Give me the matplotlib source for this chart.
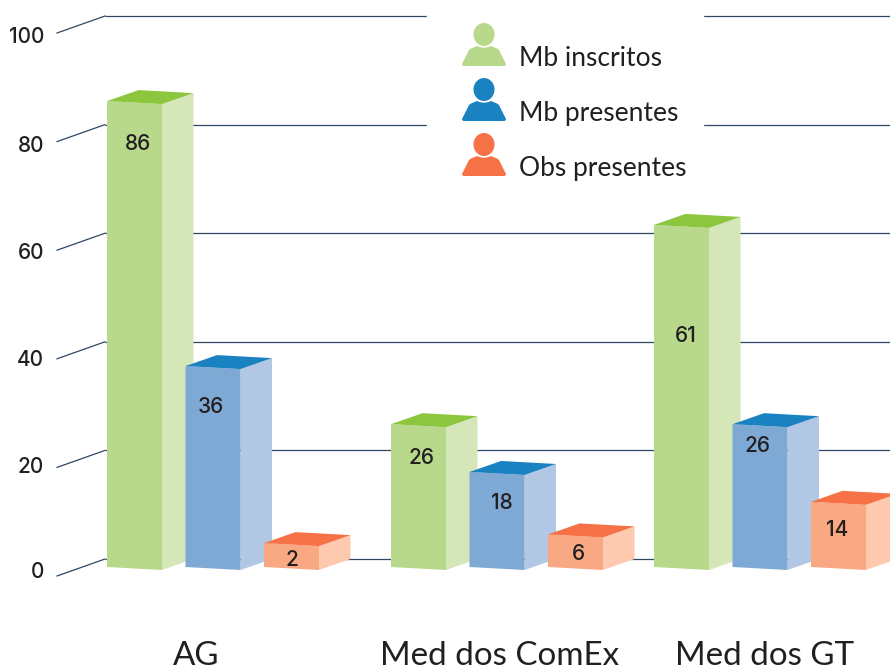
import matplotlib
matplotlib.use('Agg')
import matplotlib.pyplot as plt
from matplotlib.patches import Polygon, Ellipse, PathPatch, Rectangle
from matplotlib.path import Path

# Datos
categorias = ['AG', 'Med dos ComEx', 'Med dos GT']
series = ['Mb inscritos', 'Mb presentes', 'Obs presentes']
etiquetas = [[86, 36, 2], [26, 18, 6], [61, 26, 14]]
# altura dibujada de cada barra, leida contra la escala (no coincide con la etiqueta)
alturas = [[85.8, 37, 4.4], [26.3, 17.5, 6], [63, 26.3, 12]]
ticks = [0, 20, 40, 60, 80, 100]

# Estilo
color_frente = ['#B8D88B', '#7FA9D5', '#F8A883']
color_lado = ['#D5E7B8', '#B1C7E4', '#FDC9AF']
color_tapa = ['#8CC63F', '#1B82C2', '#F67146']
color_linea = '#2F4763'
color_texto = '#231F20'

# Layout en pixeles
PX_UNIDAD = 5.43      # pixeles por unidad de la escala
Y_CERO = 559          # pixel del 0 en el plano de fondo
grupo_x = [107, 391, 654]
paso_x = 78.5
ANCHO = 55
FONDO_X = 31.5
FONDO_Y = 11
CAIDA = 3
BASE_PX = 567
etiqueta_x = [[137.5, 211, 292], [421, 501.5, 578], [686, 758, 837.5]]
etiqueta_y = [[144, 407, 560], [458, 503, 554], [336, 446, 530]]
tick_y = [572, 467, 360, 253, 146, 37]
categoria_x = [196, 499.5, 765]
leyenda_y = [66, 121, 176]


def val(px):
    "Convierte una posicion en pixeles a unidades de la escala"
    return (Y_CERO - px) / PX_UNIDAD


plt.rcParams['font.family'] = ['Lato', 'DejaVu Sans']
fig = plt.figure(figsize=(8.9, 6.66), dpi=100)
ax = fig.add_axes([0, 0, 1, 1])
ax.set_xlim(0, 890)
ax.set_ylim(val(666), val(0))
ax.axis('off')

# Rejilla y marcas del eje
for t, ty in zip(ticks, tick_y):
    ax.plot([105, 890], [t, t], color=color_linea, lw=0.9, zorder=1, solid_capstyle='butt')
    y_frente = t - 17 / PX_UNIDAD
    ax.plot([57, 105], [y_frente, t], color=color_linea, lw=0.9, zorder=1)
    ax.text(44, val(ty), str(t), ha='right', va='center', family='Inter',
            fontsize=15, fontweight='medium', color=color_texto)

# Hueco blanco de la leyenda
ax.add_patch(Rectangle((427, val(135)), 276, val(0) - val(135), color='white', zorder=2))

# Barras
base = val(BASE_PX)
caida = CAIDA / PX_UNIDAD
fy = FONDO_Y / PX_UNIDAD
z = 3
for g, x0 in enumerate(grupo_x):
    for s in range(len(series)):
        x = x0 + s * paso_x
        h = alturas[g][s]
        top = base + h
        frente = [(x, base), (x + ANCHO, base - caida), (x + ANCHO, top - caida), (x, top)]
        lado = [(x + ANCHO, base - caida), (x + ANCHO + FONDO_X, base - caida + fy),
                (x + ANCHO + FONDO_X, top - caida + fy), (x + ANCHO, top - caida)]
        tapa = [(x, top), (x + ANCHO, top - caida),
                (x + ANCHO + FONDO_X, top - caida + fy), (x + FONDO_X, top + fy)]
        ax.add_patch(Polygon(lado, closed=True, fc=color_lado[s], ec='none', zorder=z))
        ax.add_patch(Polygon(frente, closed=True, fc=color_frente[s], ec='none', zorder=z))
        ax.add_patch(Polygon(tapa, closed=True, fc=color_tapa[s], ec='none', zorder=z))
        ax.text(etiqueta_x[g][s], val(etiqueta_y[g][s]), str(etiquetas[g][s]),
                ha='center', va='center', family='Inter', fontsize=15, fontweight='medium',
                color=color_texto, zorder=z + 1)
        z += 2

# Categorias
for nombre, cx in zip(categorias, categoria_x):
    ax.text(cx, val(665), nombre, ha='center', va='baseline', fontsize=23.9,
            color=color_texto, zorder=60)


def persona(cx, yb, color):
    "Dibuja el icono de persona: cx centro, yb pixel de la base"
    ax.add_patch(Ellipse((cx, val(yb - 31.5)), 21, 23 / PX_UNIDAD, fc=color, ec='none', zorder=61))
    verts = [(cx - 22, yb - 2), (cx - 15, yb - 16), (cx - 13, yb - 17.5),
             (cx - 7, yb - 20), (cx, yb - 16.5), (cx + 7, yb - 20),
             (cx + 13, yb - 17.5), (cx + 15, yb - 16), (cx + 22, yb - 2),
             (cx + 22, yb), (cx + 20, yb), (cx - 20, yb), (cx - 22, yb),
             (cx - 22, yb - 2), (cx - 22, yb - 2)]
    codes = [Path.MOVETO, Path.LINETO, Path.LINETO,
             Path.LINETO, Path.CURVE3, Path.CURVE3,
             Path.LINETO, Path.LINETO, Path.LINETO,
             Path.CURVE3, Path.CURVE3, Path.LINETO, Path.CURVE3,
             Path.CURVE3, Path.CLOSEPOLY]
    puntos = [(px, val(py)) for px, py in verts]
    ax.add_patch(PathPatch(Path(puntos, codes), fc=color, ec='none', zorder=61))


# Leyenda
for s, nombre in enumerate(series):
    persona(484, leyenda_y[s], color_frente[0] if s == 0 else color_tapa[s])
    ax.text(519, val(leyenda_y[s]), nombre, ha='left', va='baseline', fontsize=19,
            color=color_texto, zorder=62)

fig.savefig('out.png', dpi=100)
